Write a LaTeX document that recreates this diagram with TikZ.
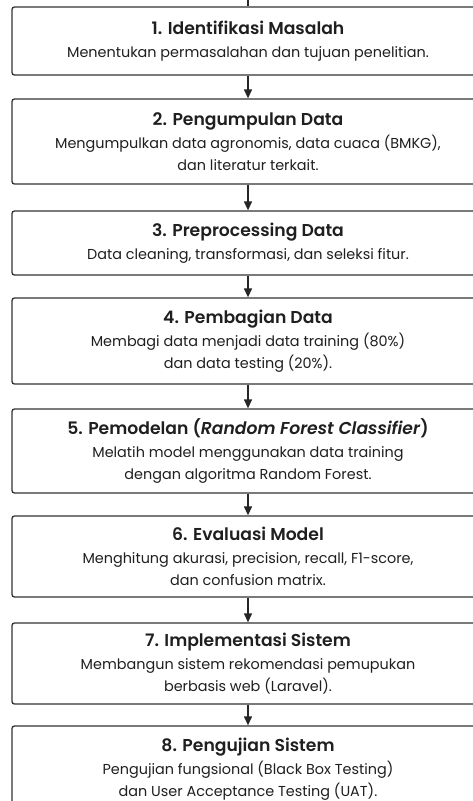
\documentclass[tikz,border=0pt]{standalone}
\usepackage{fontspec}
\setmainfont{Poppins}[Ligatures=NoCommon, BoldFont={Poppins SemiBold}, BoldItalicFont={Poppins SemiBold Italic}]
\usetikzlibrary{arrows.meta}
\newcommand\steptitle[1]{{\fontsize{17.2}{20}\selectfont\bfseries #1}\\[1pt]}
\begin{document}
\begin{tikzpicture}[x=1pt,y=-1pt,
  stepbox/.style={draw=black!80, line width=1.3pt, rounded corners=2.5pt, fill=white,
    minimum width=472pt, inner sep=0pt, align=center, text=black!88,
    font=\fontsize{14.4}{22}\selectfont},
  conn/.style={draw=black!85, line width=1.3pt, -{Triangle[length=9pt,width=8pt]}}]
\useasboundingbox (0,0) rectangle (473,801);
\clip (0,0) rectangle (473,801);
\fill[white] (0,0) rectangle (473,801);
\node[stepbox, minimum height=68pt] (s1) at (248,41)
  {\steptitle{1. Identifikasi Masalah}Menentukan permasalahan dan tujuan penelitian.};
\node[stepbox, minimum height=85pt] (s2) at (248,141.5)
  {\steptitle{2. Pengumpulan Data}Mengumpulkan data agronomis, data cuaca (BMKG),\\dan literatur terkait.};
\node[stepbox, minimum height=64pt] (s3) at (248,243)
  {\steptitle{3. Preprocessing Data}Data cleaning, transformasi, dan seleksi fitur.};
\node[stepbox, minimum height=86pt] (s4) at (248,341)
  {\steptitle{4. Pembagian Data}Membagi data menjadi data training (80\%)\\dan data testing (20\%).};
\node[stepbox, minimum height=84pt] (s5) at (248,451)
  {\steptitle{5. Pemodelan (\textit{Random Forest Classifier})}Melatih model menggunakan data training\\dengan algoritma Random Forest.};
\node[stepbox, minimum height=81pt] (s6) at (248,556.5)
  {\steptitle{6. Evaluasi Model}Menghitung akurasi, precision, recall, F1-score,\\dan confusion matrix.};
\node[stepbox, minimum height=81pt] (s7) at (248,663.5)
  {\steptitle{7. Implementasi Sistem}Membangun sistem rekomendasi pemupukan\\berbasis web (Laravel).};
\node[stepbox, minimum height=86pt] (s8) at (248,769)
  {\steptitle{8. Pengujian Sistem}Pengujian fungsional (Black Box Testing)\\dan User Acceptance Testing (UAT).};
\coordinate (top) at (248,0);
\draw[draw=black!85, line width=1.3pt] (top) -- (s1.north);
\draw[conn] (s1) -- (s2);
\draw[conn] (s2) -- (s3);
\draw[conn] (s3) -- (s4);
\draw[conn] (s4) -- (s5);
\draw[conn] (s5) -- (s6);
\draw[conn] (s6) -- (s7);
\draw[conn] (s7) -- (s8);
\end{tikzpicture}
\end{document}
